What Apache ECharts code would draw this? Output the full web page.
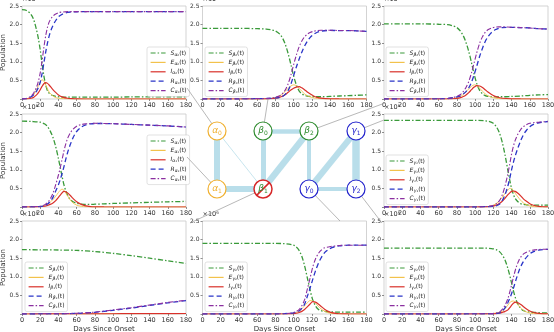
<!DOCTYPE html>
<html><head><meta charset="utf-8">
<script src="https://cdn.jsdelivr.net/npm/echarts@6/dist/echarts.min.js"></script>
<style>html,body{margin:0;padding:0;background:#fff}#c{width:554px;height:332px}</style>
</head><body><div id="c"></div>
<script>
// ===== DATA (population, ×10^6) =====
const xTicks = [0,20,40,60,80,100,120,140,160,180];
const yTicks = [0.5,1.0,1.5,2.0,2.5];

// alpha0
const days_a0 = [0,5,10,13,16,18,20,22,24,26,28,30,33,36,40,45,50,55,60,70,80,100,120,140,160,180];
const S_a0 = [2.40,2.38,2.27,2.12,1.85,1.62,1.32,0.95,0.62,0.38,0.22,0.15,0.10,0.08,0.06,0.05,0.05,0.05,0.05,0.05,0.05,0.05,0.055,0.055,0.06,0.06];
const E_a0 = [0,0.005,0.05,0.12,0.25,0.36,0.46,0.52,0.48,0.38,0.27,0.18,0.10,0.05,0.02,0.01,0.003,0,0,0,0,0,0,0,0,0];
const I_a0 = [0,0.002,0.02,0.05,0.11,0.17,0.25,0.34,0.41,0.44,0.42,0.37,0.28,0.20,0.11,0.05,0.02,0.01,0.004,0,0,0,0,0,0,0];
const R_a0 = [0,0.013,0.06,0.12,0.21,0.31,0.45,0.68,0.97,1.26,1.51,1.71,1.92,2.07,2.21,2.29,2.33,2.34,2.346,2.35,2.35,2.35,2.35,2.35,2.35,2.35];
const C_a0 = [0,0.015,0.08,0.17,0.32,0.48,0.70,1.02,1.38,1.70,1.93,2.08,2.20,2.27,2.32,2.34,2.35,2.35,2.35,2.35,2.35,2.35,2.35,2.35,2.35,2.35];

// beta0
const days_b0 = [0,20,40,60,70,75,80,85,88,91,94,97,100,103,106,109,112,115,118,122,126,130,140,150,160,170,180];
const S_b0 = [1.90,1.90,1.90,1.89,1.88,1.86,1.83,1.74,1.63,1.46,1.22,0.93,0.62,0.38,0.22,0.14,0.10,0.08,0.07,0.06,0.06,0.06,0.07,0.08,0.09,0.10,0.11];
const E_b0 = [0,0,0,0,0.005,0.015,0.04,0.09,0.14,0.21,0.29,0.35,0.38,0.36,0.29,0.21,0.14,0.09,0.055,0.03,0.015,0.008,0.002,0,0,0,0];
const I_b0 = [0,0,0,0,0.002,0.007,0.02,0.05,0.08,0.12,0.18,0.24,0.29,0.32,0.33,0.30,0.25,0.19,0.14,0.08,0.045,0.025,0.006,0.001,0,0,0];
const R_b0 = [0,0,0,0.01,0.013,0.018,0.03,0.04,0.07,0.13,0.23,0.40,0.63,0.86,1.07,1.26,1.42,1.55,1.65,1.74,1.795,1.825,1.844,1.839,1.84,1.83,1.82];
const C_b0 = [0,0,0,0.01,0.015,0.025,0.05,0.09,0.15,0.25,0.41,0.64,0.92,1.18,1.40,1.56,1.67,1.74,1.79,1.82,1.84,1.85,1.85,1.84,1.84,1.83,1.82];

// beta2
const days_b2 = [0,20,40,60,70,75,80,84,87,90,93,96,99,102,105,108,111,114,118,122,126,130,140,150,160,170,180];
const S_b2 = [2.02,2.02,2.02,2.01,2.00,1.97,1.92,1.82,1.70,1.52,1.28,0.98,0.66,0.40,0.23,0.14,0.09,0.07,0.06,0.055,0.06,0.06,0.07,0.08,0.10,0.11,0.12];
const E_b2 = [0,0,0,0,0.005,0.012,0.03,0.07,0.12,0.19,0.27,0.34,0.38,0.36,0.29,0.21,0.14,0.09,0.05,0.025,0.012,0.006,0.001,0,0,0,0];
const I_b2 = [0,0,0,0,0.002,0.006,0.015,0.035,0.065,0.11,0.17,0.25,0.32,0.36,0.35,0.31,0.25,0.19,0.12,0.07,0.04,0.02,0.005,0.001,0,0,0];
const R_b2 = [0,0,0,0.005,0.013,0.034,0.055,0.085,0.135,0.20,0.30,0.45,0.66,0.90,1.15,1.36,1.54,1.67,1.79,1.86,1.90,1.92,1.925,1.92,1.91,1.89,1.88];
const C_b2 = [0,0,0,0.005,0.015,0.04,0.07,0.12,0.20,0.31,0.47,0.70,0.98,1.26,1.50,1.67,1.79,1.86,1.91,1.93,1.94,1.94,1.93,1.92,1.91,1.89,1.88];

// alpha1
const days_a1 = [0,10,20,25,28,31,34,37,40,42,44,46,48,50,53,56,60,65,70,75,80,90,100,120,140,160,180];
const S_a1 = [2.31,2.30,2.28,2.23,2.16,2.04,1.87,1.62,1.30,1.06,0.82,0.60,0.44,0.32,0.20,0.14,0.10,0.08,0.07,0.07,0.075,0.085,0.095,0.11,0.125,0.14,0.15];
const E_a1 = [0,0.002,0.015,0.04,0.08,0.13,0.20,0.29,0.39,0.45,0.48,0.45,0.38,0.30,0.19,0.11,0.05,0.02,0.007,0.003,0,0,0,0,0,0,0];
const I_a1 = [0,0.001,0.008,0.02,0.04,0.07,0.11,0.17,0.26,0.32,0.38,0.42,0.41,0.38,0.31,0.23,0.14,0.07,0.03,0.012,0.005,0.001,0,0,0,0,0];
const R_a1 = [0,0.004,0.012,0.04,0.08,0.15,0.26,0.43,0.60,0.74,0.90,1.08,1.28,1.46,1.68,1.86,2.03,2.145,2.205,2.233,2.245,2.244,2.24,2.22,2.20,2.18,2.15];
const C_a1 = [0,0.005,0.02,0.06,0.12,0.22,0.37,0.60,0.86,1.06,1.28,1.50,1.69,1.84,1.99,2.09,2.17,2.215,2.235,2.245,2.25,2.245,2.24,2.22,2.20,2.18,2.15];

// gamma1
const days_g1 = [0,40,80,100,110,115,120,124,127,130,133,136,138,140,142,144,147,150,153,156,160,165,170,175,180];
const S_g1 = [2.33,2.33,2.33,2.33,2.32,2.30,2.25,2.13,1.97,1.72,1.38,0.98,0.72,0.50,0.34,0.23,0.14,0.09,0.07,0.06,0.05,0.05,0.05,0.05,0.05];
const E_g1 = [0,0,0,0,0.005,0.015,0.05,0.11,0.18,0.27,0.37,0.46,0.50,0.49,0.44,0.37,0.27,0.18,0.11,0.07,0.03,0.01,0.004,0.001,0];
const I_g1 = [0,0,0,0,0.002,0.008,0.025,0.06,0.10,0.16,0.24,0.33,0.38,0.42,0.43,0.42,0.37,0.30,0.22,0.16,0.09,0.04,0.015,0.006,0.002];
const R_g1 = [0,0,0,0,0.008,0.012,0.015,0.04,0.08,0.18,0.34,0.57,0.77,1.00,1.20,1.37,1.59,1.78,1.94,2.05,2.16,2.23,2.265,2.284,2.298];
const C_g1 = [0,0,0,0,0.01,0.02,0.04,0.10,0.18,0.34,0.58,0.90,1.15,1.42,1.63,1.79,1.96,2.08,2.16,2.21,2.25,2.27,2.28,2.29,2.30];

// beta1 (quarantined)
const days_b1 = [0,20,40,60,80,100,120,140,160,180];
const S_b1 = [1.73,1.725,1.72,1.71,1.68,1.63,1.57,1.50,1.43,1.36];
const E_b1 = [0,0.001,0.002,0.003,0.004,0.006,0.008,0.009,0.010,0.011];
const I_b1 = [0,0.001,0.002,0.003,0.005,0.007,0.009,0.011,0.012,0.013];
const R_b1 = [0,0.001,0.004,0.017,0.045,0.10,0.16,0.23,0.30,0.36];
const C_b1 = [0,0.002,0.006,0.02,0.05,0.11,0.17,0.24,0.31,0.37];

// gamma0
const days_g0 = [0,40,80,90,95,100,103,106,109,112,115,118,121,124,127,130,134,138,142,146,150,160,170,180];
const S_g0 = [1.90,1.90,1.90,1.89,1.88,1.85,1.80,1.71,1.55,1.30,0.98,0.65,0.38,0.22,0.13,0.09,0.07,0.06,0.055,0.05,0.05,0.05,0.05,0.05];
const E_g0 = [0,0,0,0.002,0.006,0.02,0.04,0.08,0.14,0.22,0.30,0.36,0.35,0.29,0.21,0.14,0.075,0.035,0.015,0.006,0.002,0,0,0];
const I_g0 = [0,0,0,0.001,0.003,0.01,0.02,0.04,0.07,0.12,0.19,0.27,0.33,0.32,0.27,0.21,0.13,0.07,0.035,0.016,0.007,0.001,0,0];
const R_g0 = [0,0,0,0.009,0.017,0.03,0.05,0.08,0.15,0.26,0.47,0.69,0.93,1.16,1.35,1.50,1.65,1.73,1.785,1.814,1.833,1.849,1.85,1.85];
const C_g0 = [0,0,0,0.01,0.02,0.04,0.07,0.12,0.22,0.38,0.66,0.96,1.26,1.48,1.62,1.71,1.78,1.80,1.82,1.83,1.84,1.85,1.85,1.85];

// gamma2
const days_g2 = [0,40,80,110,118,123,127,130,133,136,139,142,145,148,151,154,158,162,166,170,175,180];
const S_g2 = [1.77,1.77,1.77,1.77,1.76,1.73,1.67,1.58,1.44,1.22,0.94,0.63,0.38,0.22,0.13,0.08,0.055,0.045,0.04,0.035,0.03,0.03];
const E_g2 = [0,0,0,0.002,0.01,0.025,0.05,0.08,0.15,0.24,0.33,0.35,0.30,0.22,0.14,0.085,0.04,0.017,0.007,0.003,0.001,0];
const I_g2 = [0,0,0,0.001,0.005,0.012,0.025,0.045,0.07,0.11,0.20,0.29,0.32,0.29,0.24,0.18,0.11,0.06,0.03,0.015,0.006,0.002];
const R_g2 = [0,0,0,0.004,0.005,0.013,0.03,0.085,0.17,0.31,0.48,0.69,0.93,1.15,1.32,1.45,1.57,1.65,1.695,1.72,1.734,1.738];
const C_g2 = [0,0,0,0.005,0.01,0.025,0.055,0.13,0.24,0.42,0.68,0.98,1.25,1.44,1.56,1.63,1.68,1.71,1.725,1.735,1.74,1.74];

// network: nodes, edge weights
const nodeKeys = ['a0','b0','b2','g1','a1','b1','g0','g2'];
const nodeGreek = {a0:['α','0'],a1:['α','1'],b0:['β','0'],b1:['β','1'],b2:['β','2'],g0:['γ','0'],g1:['γ','1'],g2:['γ','2']};
const netEdges = [['a0','a1',6],['a1','b1',6],['a0','b1',0.8],['b0','b1',5],['b0','b2',4.5],['b1','b2',6.5],['b2','g0',4],['g0','g1',6],['g1','g2',7.5],['g0','g2',4]];

// ===== LAYOUT / STYLE =====
const panels = [
  {key:'a0', days:days_a0, S:S_a0, E:E_a0, I:I_a0, R:R_a0, C:C_a0},
  {key:'b0', days:days_b0, S:S_b0, E:E_b0, I:I_b0, R:R_b0, C:C_b0},
  {key:'b2', days:days_b2, S:S_b2, E:E_b2, I:I_b2, R:R_b2, C:C_b2},
  {key:'a1', days:days_a1, S:S_a1, E:E_a1, I:I_a1, R:R_a1, C:C_a1},
  {key:'g1', days:days_g1, S:S_g1, E:E_g1, I:I_g1, R:R_g1, C:C_g1},
  {key:'b1', days:days_b1, S:S_b1, E:E_b1, I:I_b1, R:R_b1, C:C_b1},
  {key:'g0', days:days_g0, S:S_g0, E:E_g0, I:I_g0, R:R_g0, C:C_g0},
  {key:'g2', days:days_g2, S:S_g2, E:E_g2, I:I_g2, R:R_g2, C:C_g2}
];
const LAY = {
  a0:{left:22,  top:6,   lg:[147,47],  yName:true,  xName:false},
  b0:{left:202.5, top:6, lg:[205,47],  yName:false, xName:false},
  b2:{left:384, top:6,   lg:[386,47],  yName:false, xName:false},
  a1:{left:22,  top:114, lg:[147,135], yName:true,  xName:false},
  g1:{left:384, top:114, lg:[386,155], yName:false, xName:false},
  b1:{left:22,  top:221, lg:[25,262],  yName:true,  xName:true},
  g0:{left:202.5, top:221, lg:[205,262], yName:false, xName:true},
  g2:{left:384, top:221, lg:[386,262], yName:false, xName:true}
};
const NODEPOS = {a0:[217,131],b0:[263,131],b2:[309,131],g1:[356,131],a1:[217,189],b1:[263,189],g0:[309,189],g2:[356,189]};
const CONNECT = {a0:[187,88],a1:[187,157],b0:[268,99],b1:[190,223],b2:[385,103],g1:[384,120],g0:[340,221],g2:[382,223]};
const GROUPCOL = {a:'#f0b030', b:'#2e8b2e', g:'#2222cc'};
const STY = {
  S:{color:'#3a9a3a', type:[5,2,1.5,2], width:1.3},
  E:{color:'#f2c24c', type:'solid', width:0.9},
  I:{color:'#d9302a', type:'solid', width:1.2},
  R:{color:'#2a35c8', type:[5,3], width:1.3},
  C:{color:'#8b2fa0', type:[5,2,1.5,2], width:1.1}
};
const SUBTXT = {a0:'α₀',a1:'α₁',b0:'β₀',b1:'β₁',b2:'β₂',g0:'γ₀',g1:'γ₁',g2:'γ₂'};

const grids=[], xAxes=[], yAxes=[], legends=[], series=[];
const tickStyle = {show:true, length:2, lineStyle:{color:'#444', width:0.6}};
panels.forEach((p,k)=>{
  const L = LAY[p.key];
  grids.push({left:L.left, top:L.top, width:164, height:93, show:true, borderColor:'#c8c8c8', borderWidth:0.8,
    backgroundColor:'#fff', containLabel:false, outerBoundsMode:'none'});
  xAxes.push({type:'value', gridIndex:k, position:'bottom', min:0, max:180, interval:20,
    axisLine:{show:false}, axisTick:tickStyle, splitLine:{show:false},
    axisLabel:{fontSize:6.5, color:'#333', margin:3},
    name:L.xName?'Days Since Onset':'', nameLocation:'middle', nameGap:12,
    nameTextStyle:{fontSize:7, color:'#333'}});
  yAxes.push({type:'value', gridIndex:k, position:'left', min:0, max:2.5, interval:0.5,
    axisLine:{show:false}, axisTick:tickStyle, splitLine:{show:false},
    axisLabel:{fontSize:6, color:'#333', margin:3, formatter:v=> yTicks.indexOf(v)>=0 ? v.toFixed(1) : ''},
    name:'×10⁶', nameLocation:'end', nameGap:0,
    nameTextStyle:{fontSize:6.5, color:'#333', align:'left', verticalAlign:'bottom', lineHeight:7}});
  yAxes.push({type:'value', gridIndex:k, position:'left', offset:0, min:0, max:2.5, show:L.yName,
    axisLine:{show:false}, axisTick:{show:false}, axisLabel:{show:false}, splitLine:{show:false},
    name:L.yName?'Population':'', nameLocation:'middle', nameGap:15,
    nameTextStyle:{fontSize:7, color:'#333'}});
  const names = ['S','E','I','R','C'].map(c=>c+'@'+p.key);
  legends.push({left:L.lg[0], top:L.lg[1], orient:'vertical', data:names, itemWidth:15, itemHeight:6, itemGap:1.4,
    padding:[2,3,2,3], backgroundColor:'rgba(255,255,255,0.9)', borderColor:'#cfcfcf', borderWidth:0.6, borderRadius:2,
    selectedMode:false, itemStyle:{opacity:0, borderWidth:0}, lineStyle:{width:1.2},
    formatter:n=>{const [c,key]=n.split('@'); return '{v|'+c+'}{s|'+SUBTXT[key]+'}{n|(t)}';},
    textStyle:{fontSize:6, color:'#222', lineHeight:8, rich:{
      v:{fontSize:6, fontStyle:'italic', lineHeight:8, color:'#222'},
      s:{fontSize:4.5, fontStyle:'italic', lineHeight:5, verticalAlign:'bottom', color:'#222'},
      n:{fontSize:6, lineHeight:8, color:'#222'}}}});
  ['S','E','I','R','C'].forEach(c=>{
    series.push({type:'line', name:c+'@'+p.key, xAxisIndex:k, yAxisIndex:2*k,
      data:p.days.map((d,i)=>[d,p[c][i]]), symbol:'none', smooth:0.3, silent:true,
      lineStyle:{color:STY[c].color, type:STY[c].type, width:STY[c].width},
      itemStyle:{color:STY[c].color}});
  });
});

// network graph
const gNodes = [
  {name:'corner0', x:0, y:0, symbolSize:0, label:{show:false}},
  {name:'corner1', x:554, y:332, symbolSize:0, label:{show:false}}
];
const gLinks = [];
nodeKeys.forEach(key=>{
  const col = GROUPCOL[key[0]];
  const [gr, sub] = nodeGreek[key];
  const isQ = key==='b1';
  gNodes.push({name:key, x:NODEPOS[key][0], y:NODEPOS[key][1], symbolSize:18,
    symbol: isQ ? 'path://M0,-10A10,10 0 1,1 0,10A10,10 0 1,1 0,-10ZM-7.07,7.07L7.07,-7.07' : 'circle',
    itemStyle:{color:'#fff', borderColor:isQ?'#d62728':col, borderWidth:isQ?1.5:1.2},
    label:{show:true, position:'inside', formatter:'{g|'+gr+'}{s|'+sub+'}',
      rich:{g:{fontSize:9, fontStyle:'italic', lineHeight:11, color:col}, s:{fontSize:6, lineHeight:6, verticalAlign:'bottom', color:col}}}});
  gNodes.push({name:'p_'+key, x:CONNECT[key][0], y:CONNECT[key][1], symbolSize:0, label:{show:false}});
  gLinks.push({source:key, target:'p_'+key, lineStyle:{color:'#9a9a9a', width:0.7, opacity:1}});
});
netEdges.forEach(([a,b,w])=>{
  gLinks.push({source:a, target:b, lineStyle:{color:'#add8e6', width:w, opacity:0.85}});
});
series.push({type:'graph', layout:'none', left:0, top:0, width:554, height:332, roam:false, silent:true,
  data:gNodes, links:gLinks, edgeSymbol:['none','none'], z:5,
  emphasis:{disabled:true}, lineStyle:{curveness:0}});

const chart = echarts.init(document.getElementById('c'), null, {renderer:'canvas'});
chart.setOption({
  animation:false,
  backgroundColor:'#fff',
  textStyle:{fontFamily:'DejaVu Sans'},
  grid:grids, xAxis:xAxes, yAxis:yAxes, legend:legends, series:series
});
</script></body></html>
